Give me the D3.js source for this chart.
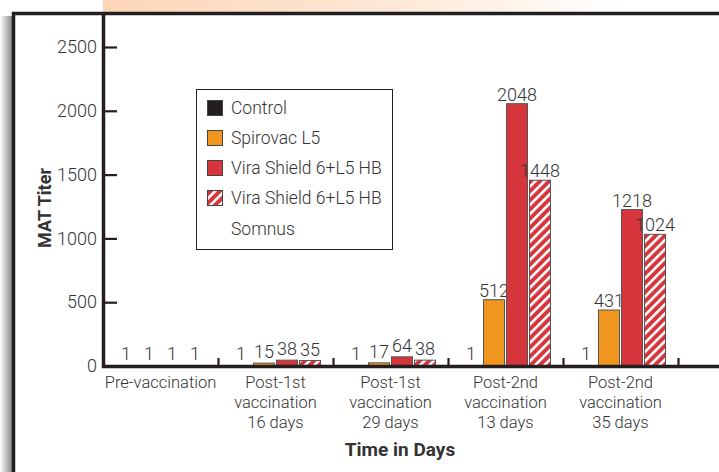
<!DOCTYPE html>
<html><head><meta charset="utf-8">
<script src="https://cdn.jsdelivr.net/npm/d3@7"></script>
<style>
html,body{margin:0;padding:0;background:#fff;}
svg{display:block;}
text{font-family:Roboto,"Liberation Sans",sans-serif;fill:#333;}
</style></head>
<body>
<svg id="chart" width="719" height="472"></svg>
<script>
const categories = [
  ["Pre-vaccination"],
  ["Post-1st", "vaccination", "16 days"],
  ["Post-1st", "vaccination", "29 days"],
  ["Post-2nd", "vaccination", "13 days"],
  ["Post-2nd", "vaccination", "35 days"]
];
const seriesNames = ["Control", "Spirovac L5", "Vira Shield 6+L5 HB", "Vira Shield 6+L5 HB Somnus"];
const control    = [1, 1, 1, 1, 1];
const spirovac   = [1, 15, 17, 512, 431];
const viraShield = [1, 38, 64, 2048, 1218];
const somnus     = [1, 35, 38, 1448, 1024];
const yTicks = [0, 500, 1000, 1500, 2000, 2500];

const series = [control, spirovac, viraShield, somnus];
const fills = ["#231f20", "#f0961f", "#d5353b", "url(#stripes)"];

const svg = d3.select("#chart");
const defs = svg.append("defs");

const bg = defs.append("linearGradient").attr("id", "topband").attr("x1", "0").attr("x2", "1");
bg.append("stop").attr("offset", "0").attr("stop-color", "#fbd6b6");
bg.append("stop").attr("offset", "0.55").attr("stop-color", "#fde8d6");
bg.append("stop").attr("offset", "1").attr("stop-color", "#ffffff");
const sh = defs.append("linearGradient").attr("id", "shadow").attr("x1", "0").attr("x2", "1");
sh.append("stop").attr("offset", "0").attr("stop-color", "#ffffff");
sh.append("stop").attr("offset", "1").attr("stop-color", "#8a8a8a");

const pat = defs.append("pattern").attr("id", "stripes")
  .attr("patternUnits", "userSpaceOnUse").attr("width", 6.5).attr("height", 6.5)
  .attr("patternTransform", "rotate(45)");
pat.append("rect").attr("width", 6.5).attr("height", 6.5).attr("fill", "#d5353b");
pat.append("rect").attr("width", 2.6).attr("height", 6.5).attr("fill", "#ffffff");

svg.append("rect").attr("x", 103).attr("y", 0).attr("width", 520).attr("height", 14).attr("fill", "url(#topband)");
svg.append("rect").attr("x", 0).attr("y", 16).attr("width", 12).attr("height", 456).attr("fill", "url(#shadow)");

svg.append("rect").attr("x", 13.5).attr("y", 13.5).attr("width", 720).attr("height", 470)
  .attr("fill", "#fff").attr("stroke", "#231f20").attr("stroke-width", 3.5);

const x0 = d3.scaleBand().domain(d3.range(categories.length)).range([103, 678]).paddingInner(0).paddingOuter(0);
const x1 = d3.scaleBand().domain(d3.range(series.length)).range([12.5, x0.bandwidth() - 12.5]).paddingInner(0.087);
const y = d3.scaleLinear().domain([0, 2500]).range([366, 47]);

// y axis
const yAxis = d3.axisLeft(y).tickValues(yTicks).tickSize(0).tickPadding(6).tickFormat(d3.format("d"));
const gy = svg.append("g").attr("transform", "translate(103,0)").call(yAxis);
gy.select(".domain").remove();
gy.selectAll("text").style("font-size", "18px").style("font-weight", 300).attr("fill", "#333").attr("font-family", null);
gy.selectAll(".tick").append("line").attr("x1", 0).attr("x2", 14).attr("stroke", "#231f20").attr("stroke-width", 2.2);
svg.append("line").attr("x1", 103.5).attr("x2", 103.5).attr("y1", 14).attr("y2", 368).attr("stroke", "#231f20").attr("stroke-width", 3.5);

// bars
const groups = svg.append("g").selectAll("g").data(categories).join("g")
  .attr("transform", (d, i) => `translate(${x0(i)},0)`);
groups.each(function(cat, ci) {
  const g = d3.select(this);
  series.forEach((s, si) => {
    const v = s[ci];
    if (v > 1) {
      g.append("rect").attr("x", x1(si)).attr("width", x1.bandwidth())
        .attr("y", y(v) - 1).attr("height", y(0) - y(v) + 1)
        .attr("fill", fills[si]).attr("stroke", "#555").attr("stroke-width", 1);
    }
    g.append("text").attr("x", x1(si) + x1.bandwidth() / 2).attr("y", y(v) - (v > 100 ? 4 : 6))
      .attr("text-anchor", "middle").style("font-size", "18px").style("font-weight", 300).text(v);
  });
});

// x axis line & ticks
svg.append("line").attr("x1", 102).attr("x2", 719).attr("y1", 366.5).attr("y2", 366.5).attr("stroke", "#231f20").attr("stroke-width", 3.5);
const xAxis = d3.axisBottom(d3.scaleLinear().domain([0, categories.length]).range([103, 678]))
  .tickValues(d3.range(1, categories.length + 1)).tickSize(0).tickFormat("");
const gx = svg.append("g").attr("transform", "translate(0,366)").call(xAxis);
gx.select(".domain").remove();
gx.selectAll(".tick").append("line").attr("y1", -8).attr("y2", 1).attr("stroke", "#231f20").attr("stroke-width", 2.2);

// category labels
categories.forEach((lines, i) => {
  const t = svg.append("text").attr("x", x0(i) + x0.bandwidth() / 2).attr("y", 388)
    .attr("text-anchor", "middle").style("font-size", "16.5px").style("font-weight", 300);
  lines.forEach((ln, j) => t.append("tspan").attr("x", x0(i) + x0.bandwidth() / 2).attr("dy", j ? 20 : 0).text(ln));
});

// axis titles
svg.append("text").attr("x", 400).attr("y", 456).attr("text-anchor", "middle")
  .style("font-size", "19px").style("font-weight", 700).attr("fill", "#231f20").text("Time in Days");
svg.append("text").attr("transform", "translate(51,208) rotate(-90)").attr("text-anchor", "middle")
  .style("font-size", "18px").style("font-weight", 700).attr("fill", "#231f20").text("MAT Titer");

// legend
const lg = svg.append("g");
lg.append("rect").attr("x", 196.5).attr("y", 89.5).attr("width", 196).attr("height", 160)
  .attr("fill", "#fff").attr("stroke", "#231f20").attr("stroke-width", 1);
const rowY = [100, 130, 160, 190];
seriesNames.forEach((name, i) => {
  lg.append("rect").attr("x", 207.5).attr("y", rowY[i] + 0.5).attr("width", 15).attr("height", 15)
    .attr("fill", fills[i]).attr("stroke", "#444").attr("stroke-width", 1);
  const t = lg.append("text").attr("x", 231).attr("y", rowY[i] + 14)
    .style("font-size", "17.5px").style("font-weight", 300);
  if (i === 3) {
    t.append("tspan").attr("x", 231).text("Vira Shield 6+L5 HB");
    t.append("tspan").attr("x", 231).attr("dy", 31).text("Somnus");
  } else {
    t.text(name);
  }
});
</script>
</body></html>
